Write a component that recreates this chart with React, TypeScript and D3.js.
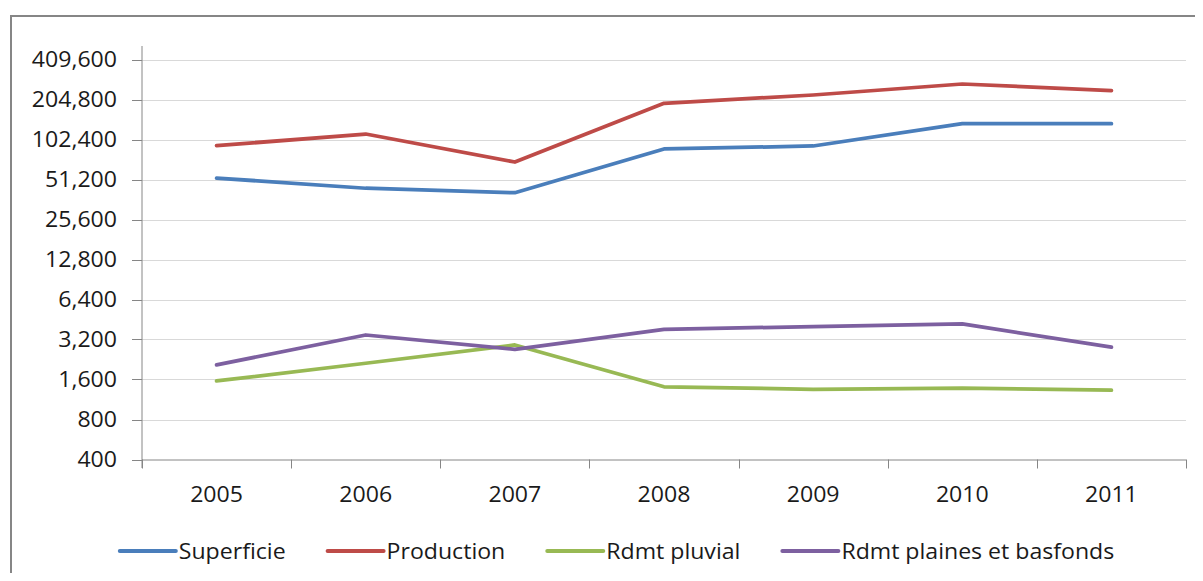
import { FC, useEffect, useRef } from 'react';
import * as d3 from 'd3';

const years = ['2005', '2006', '2007', '2008', '2009', '2010', '2011'];

const superficie = [52500, 44000, 40700, 86900, 91500, 134600, 134600];
const production = [92000, 112600, 69300, 191800, 221400, 267900, 238600];
const rdmtPluvial = [1560, 2120, 2910, 1410, 1350, 1380, 1330];
const rdmtPlaines = [2060, 3460, 2700, 3820, 4000, 4190, 2800];

const yTicks = [400, 800, 1600, 3200, 6400, 12800, 25600, 51200, 102400, 204800, 409600];

const seriesNames = ['Superficie', 'Production', 'Rdmt pluvial', 'Rdmt plaines et basfonds'];
const seriesColors = ['#4a7ebb', '#be4b48', '#98b954', '#7d60a0'];

const WIDTH = 1203;
const HEIGHT = 581;
const FONT = "'Open Sans', 'Liberation Sans', sans-serif";
const FONT_SIZE = 21;
const STRETCH = 1.1;

const Chart: FC = () => {
  const svgRef = useRef<SVGSVGElement>(null);

  useEffect(() => {
    if (!svgRef.current) return;
    const svg = d3.select(svgRef.current);
    svg.selectAll('*').remove();

    const left = 142;
    const right = 1186;
    const axisTop = 46;
    const bottom = 459.5;
    const topTick = 59.5;

    const series = [superficie, production, rdmtPluvial, rdmtPlaines];

    // chart frame (runs off the picture on the right and bottom)
    svg
      .append('rect')
      .attr('x', 11)
      .attr('y', 16)
      .attr('width', 1300)
      .attr('height', 700)
      .attr('fill', 'white')
      .attr('stroke', '#868686')
      .attr('stroke-width', 2);

    const xScale = d3.scaleBand<string>().domain(years).range([left, right]);
    const yScale = d3
      .scaleLog()
      .base(2)
      .domain([yTicks[0], yTicks[yTicks.length - 1]])
      .range([bottom, topTick]);

    const cx = (d: string) => (xScale(d) as number) + xScale.bandwidth() / 2;

    // gridlines
    svg
      .append('g')
      .selectAll('line')
      .data(yTicks.slice(1))
      .join('line')
      .attr('x1', left)
      .attr('x2', right)
      .attr('y1', (d) => Math.round(yScale(d)) + 0.5)
      .attr('y2', (d) => Math.round(yScale(d)) + 0.5)
      .attr('stroke', '#d9d9d9')
      .attr('stroke-width', 1);

    // y axis
    const yAxis = d3
      .axisLeft(yScale)
      .tickValues(yTicks)
      .tickSizeInner(10)
      .tickSizeOuter(0)
      .tickFormat(() => '');
    const gy = svg
      .append('g')
      .attr('transform', `translate(${left},0)`)
      .call(yAxis);
    gy.select('.domain').remove();
    gy.selectAll('.tick line').attr('stroke', '#868686');
    gy.selectAll('.tick').attr('transform', (d: any) => `translate(0,${Math.round(yScale(d)) + 0.5})`);
    svg
      .append('line')
      .attr('x1', left)
      .attr('x2', left)
      .attr('y1', axisTop)
      .attr('y2', bottom + 8.5)
      .attr('stroke', '#868686');

    svg
      .append('g')
      .selectAll('text')
      .data(yTicks)
      .join('text')
      .attr('transform', (d) => `translate(117,${yScale(d) + 7.5}) scale(${STRETCH},1)`)
      .attr('text-anchor', 'end')
      .attr('font-family', FONT)
      .attr('font-size', FONT_SIZE)
      .attr('fill', '#1a1a1a')
      .text((d) => d3.format(',')(d));

    // x axis
    svg
      .append('line')
      .attr('x1', left)
      .attr('x2', right)
      .attr('y1', bottom + 0.5)
      .attr('y2', bottom + 0.5)
      .attr('stroke', '#868686');
    const boundaries = years.map((y) => xScale(y) as number).concat([right]);
    svg
      .append('g')
      .selectAll('line')
      .data(boundaries)
      .join('line')
      .attr('x1', (d) => Math.round(d) + 0.5)
      .attr('x2', (d) => Math.round(d) + 0.5)
      .attr('y1', bottom)
      .attr('y2', bottom + 9)
      .attr('stroke', '#868686');
    svg
      .append('g')
      .selectAll('text')
      .data(years)
      .join('text')
      .attr('transform', (d) => `translate(${cx(d)},502) scale(${STRETCH},1)`)
      .attr('text-anchor', 'middle')
      .attr('font-family', FONT)
      .attr('font-size', FONT_SIZE)
      .attr('fill', '#1a1a1a')
      .text((d) => d);

    // lines
    const line = d3
      .line<number>()
      .x((_, i) => cx(years[i]))
      .y((d) => yScale(d));
    series.forEach((values, i) => {
      svg
        .append('path')
        .datum(values)
        .attr('d', line)
        .attr('fill', 'none')
        .attr('stroke', seriesColors[i])
        .attr('stroke-width', 3.75)
        .attr('stroke-linejoin', 'round')
        .attr('stroke-linecap', 'round');
    });

    // legend
    const legend = svg.append('g');
    const lineLen = 56;
    const textGap = 3;
    const itemGap = 42;
    const legendY = 551;
    const items = seriesNames.map((name, i) => {
      const g = legend.append('g');
      g.append('line')
        .attr('x1', 0)
        .attr('x2', lineLen)
        .attr('y1', legendY)
        .attr('y2', legendY)
        .attr('stroke', seriesColors[i])
        .attr('stroke-width', 4)
        .attr('stroke-linecap', 'round');
      const t = g
        .append('text')
        .attr('transform', `translate(${lineLen + textGap},558.5) scale(${STRETCH},1)`)
        .attr('font-family', FONT)
        .attr('font-size', FONT_SIZE)
        .attr('fill', '#1a1a1a')
        .text(name);
      const w = (t.node() as SVGTextElement).getComputedTextLength() * STRETCH;
      return { g, w: lineLen + textGap + w };
    });
    const total = d3.sum(items, (d) => d.w) + itemGap * (items.length - 1);
    let x = 617 - total / 2;
    items.forEach((it) => {
      it.g.attr('transform', `translate(${x},0)`);
      x += it.w + itemGap;
    });
  }, []);

  return <svg ref={svgRef} width={WIDTH} height={HEIGHT} style={{ display: 'block' }} />;
};

export default function App() {
  return (
    <div style={{ margin: -8 }}>
      <Chart />
    </div>
  );
}
